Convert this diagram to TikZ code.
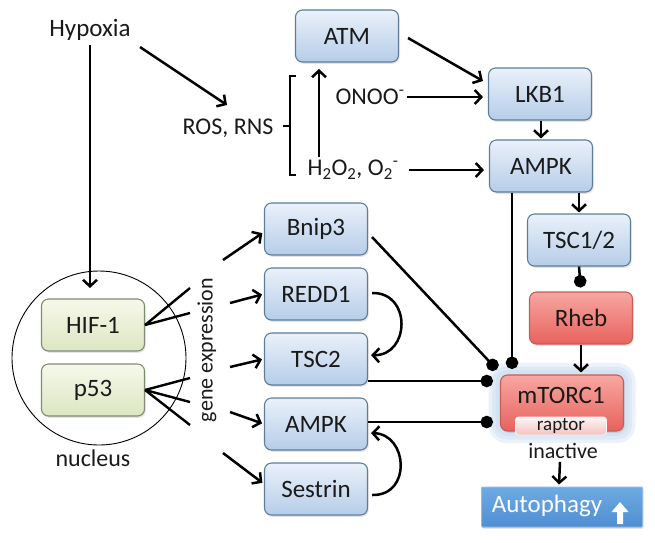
\documentclass[tikz,border=0pt]{standalone}
\usepackage{fontspec}
\setmainfont{Carlito}
\usetikzlibrary{arrows.meta,shadows,calc}
\definecolor{txt}{HTML}{1A1A1A}
\definecolor{bluetop}{HTML}{EAF1FA}
\definecolor{bluebot}{HTML}{B6CDE8}
\definecolor{bluebd}{HTML}{5F7D9A}
\definecolor{redtop}{HTML}{F7A7A2}
\definecolor{redbot}{HTML}{E8625C}
\definecolor{redbd}{HTML}{CC5A55}
\definecolor{greentop}{HTML}{F6F9EA}
\definecolor{greenbot}{HTML}{DCE6C2}
\definecolor{greenbd}{HTML}{7F8C72}
\definecolor{raptop}{HTML}{FFF6F6}
\definecolor{rapbot}{HTML}{F2C2C2}
\definecolor{autotop}{HTML}{6EAAE2}
\definecolor{autobot}{HTML}{4F8ED2}
\definecolor{autobd}{HTML}{8CBCE6}
\definecolor{glowc}{HTML}{B9D2EC}
\begin{document}
\begin{tikzpicture}[x=1pt,y=-1pt,
  box/.style={rounded corners=7pt, line width=1.1pt, minimum width=103pt, minimum height=52pt,
    inner sep=0pt, font=\fontsize{25}{28}\selectfont, text=txt,
    drop shadow={opacity=0.22, shadow xshift=1.2pt, shadow yshift=-1.8pt}},
  bluebox/.style={box, draw=bluebd, top color=bluetop, bottom color=bluebot},
  redbox/.style={box, draw=redbd, top color=redtop, bottom color=redbot},
  greenbox/.style={box, draw=greenbd, top color=greentop, bottom color=greenbot},
  lbl/.style={inner sep=0pt, font=\fontsize{24}{28}\selectfont, text=txt},
  glowlayer/.style={fill=glowc, fill opacity=0.28, inner sep=0pt},
  arr/.style={line width=2.5pt, -{Straight Barb[length=6.5pt,width=14pt]}},
  inh/.style={line width=2.5pt, -{Circle[length=12.5pt]}},
  plain/.style={line width=2.4pt},
]
\useasboundingbox (0,0) rectangle (655,542);

% nucleus
\node[draw=black, line width=0.9pt, circle, minimum size=174pt, inner sep=0pt] (nuc) at (99,358) {};
\node[greenbox] (hif) at (93,325) {HIF-1};
\node[greenbox] (p53) at (93,390) {p53};
\node[lbl] (nuctext) at (93,458) {nucleus};

% text labels
\node[lbl, font=\fontsize{25}{28}\selectfont] (hyp) at (90,30) {Hypoxia};
\node[lbl] (ros) at (228,128) {ROS, RNS};
\node[lbl] (onoo) at (370,97) {ONOO\textsuperscript{-}};
\node[lbl] (h2o2) at (353,170) {H\textsubscript{2}O\textsubscript{2}, O\textsubscript{2}\textsuperscript{-}};
\node[lbl, font=\fontsize{22}{26}\selectfont, rotate=90] (gene) at (207,350) {gene expression};

% top chain
\node[bluebox] (atm) at (347,36) {ATM};
\node[bluebox] (lkb) at (540,94) {LKB1};
\node[bluebox] (ampka) at (541,166) {AMPK};
\node[bluebox] (tsc12) at (579,240) {TSC1/2};
\node[redbox] (rheb) at (581,318) {Rheb};

% mTORC1 with soft glow
\node[glowlayer, rounded corners=18pt, minimum width=147pt, minimum height=80pt] (glow1) at (562,403) {};
\node[glowlayer, rounded corners=15pt, minimum width=140pt, minimum height=73pt] (glow2) at (562,403) {};
\node[glowlayer, rounded corners=12pt, minimum width=133pt, minimum height=66pt] (glow3) at (562,403) {};
\node[redbox, minimum width=123pt, minimum height=56pt, drop shadow={opacity=0}] (mtor) at (562,403) {};
\node[lbl, font=\fontsize{25}{28}\selectfont] (mtortext) at (561,395) {mTORC1};
\node[rounded corners=3pt, draw=raptop, line width=0.8pt, top color=raptop, bottom color=rapbot,
  minimum width=91pt, minimum height=18pt, inner sep=0pt, font=\fontsize{19}{22}\selectfont, text=txt] (raptor) at (561,426) {raptor};
\node[lbl, font=\fontsize{22}{26}\selectfont] (inact) at (563,451) {inactive};

% autophagy
\node[rounded corners=1pt, draw=autobd, line width=1pt, top color=autotop, bottom color=autobot,
  minimum width=161pt, minimum height=40pt, drop shadow={opacity=0.22, shadow xshift=1.2pt, shadow yshift=-1.8pt}] (auto) at (562,507) {};
\node[lbl, text=white, font=\fontsize{25}{28}\selectfont] (autotext) at (547,506) {Autophagy};
\fill[white] (620,502) -- (628.5,512) -- (623,512) -- (623,524) -- (617,524) -- (617,512) -- (611.5,512) -- cycle;

% left column
\node[bluebox] (bnip) at (316,229) {Bnip3};
\node[bluebox] (redd) at (316,294) {REDD1};
\node[bluebox] (tsc2) at (316,359) {TSC2};
\node[bluebox] (ampkb) at (316,424) {AMPK};
\node[bluebox] (sest) at (316,489) {Sestrin};

% coordinates
\coordinate (hypin) at (90,288);
\coordinate (rosin) at (227,105);
\coordinate (upbot) at (319,157);
\coordinate (uptop) at (319,69);
\coordinate (h1) at (190,288);
\coordinate (h2) at (190,313);
\coordinate (p1) at (190,378);
\coordinate (p2) at (190,402);
\coordinate (p3) at (190,425);
\coordinate (g1) at (223,260);
\coordinate (g2) at (230,303);
\coordinate (g3) at (230,367);
\coordinate (g4) at (230,412);
\coordinate (g5) at (223,453);
\coordinate (d1) at (512,369);
\coordinate (d2) at (496.8,369.4);
\coordinate (d3) at (493,381);
\coordinate (d4) at (493,422);
\coordinate (bnipout) at (372,237);

% Hypoxia arrows
\draw[arr] (hyp.south) ++(0,4) -- (hypin);
\draw[arr] (140,47) -- (rosin);

% bracket
\draw[line width=2.2pt] (283,126) -- (290,126);
\draw[line width=2.2pt] (296,76) -- (290,76) -- (290,175) -- (296,175);
\draw[arr] (upbot) -- (uptop);

% top arrows
\draw[arr] (atm.east) ++(9,2) -- ($(lkb.west)+(-5,-13)$);
\draw[arr] (onoo.east) ++(2,0) -- ($(lkb.west)+(-5,3)$);
\draw[arr] (h2o2.east) ++(10,0) -- ($(ampka.west)+(-5,4)$);
\draw[arr, shorten >=1pt] (lkb.south -| ampka.north) -- (ampka.north);
\draw[arr, shorten >=1pt] (tsc12.north |- ampka.south) -- (tsc12.north);
\draw[inh] (ampka.south -| d1) -- (d1);
\draw[inh, shorten >=4pt] (tsc12.south) -- (rheb.north);
\draw[arr, shorten >=2pt] (rheb.south -| rheb.south) -- (rheb.south |- mtor.north);

% mTORC1 inhibitors
\draw[inh] (bnipout) -- (d2);
\draw[inh] (tsc2.east |- d3) -- (d3);
\draw[inh] (ampkb.east |- d4) -- (d4);

% inactive -> autophagy
\draw[arr] (inact.south) ++(-3,3) -- ($(auto.north)+(-3,-2)$);

% nucleus lines
\draw[plain] (hif.east) -- (h1);
\draw[plain] (hif.east) -- (h2);
\draw[plain] (p53.east) -- (p1);
\draw[plain] (p53.east) -- (p2);
\draw[plain] (p53.east) -- (p3);

% gene expression arrows
\draw[arr, shorten >=2pt] (g1) -- ($(bnip.west)+(0,3)$);
\draw[arr, shorten >=2pt] (g2) -- (redd.west);
\draw[arr, shorten >=2pt] (g3) -- (tsc2.west);
\draw[arr, shorten >=2pt] (g4) -- (ampkb.west);
\draw[arr, shorten >=2pt] (g5) -- ($(sest.west)+(0,-5)$);

% curved arrows
\draw[arr, shorten >=3pt] ($(redd.east)+(4,-1)$) .. controls (412,292) and (410,356) .. ($(tsc2.east)+(0,-4)$);
\draw[arr, shorten >=3pt] ($(sest.east)+(4,6)$) .. controls (412,496) and (408,434) .. ($(ampkb.east)+(0,9)$);
\end{tikzpicture}
\end{document}
